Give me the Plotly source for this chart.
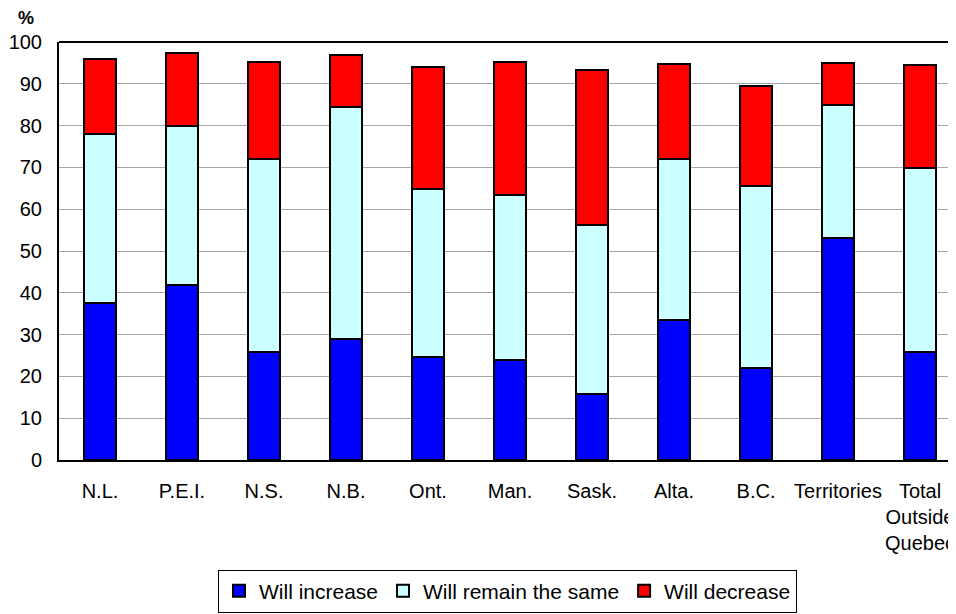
import plotly.graph_objects as go

categories = ["N.L.", "P.E.I.", "N.S.", "N.B.", "Ont.", "Man.", "Sask.", "Alta.", "B.C.",
              "Territories", "Total<br>Outside<br>Quebec"]
will_increase = [37.5, 41.9, 25.9, 28.9, 24.6, 23.9, 15.9, 33.5, 22.0, 53.2, 25.9]
will_remain = [40.6, 37.9, 46.2, 55.6, 40.2, 39.4, 40.4, 38.6, 43.6, 31.7, 43.9]
will_decrease = [17.8, 17.5, 23.0, 12.4, 29.3, 31.9, 37.1, 22.6, 23.9, 10.0, 24.8]
y_ticks = [0, 10, 20, 30, 40, 50, 60, 70, 80, 90, 100]

FONT = "Liberation Sans, Arial, sans-serif"
line = dict(color="black", width=2)

fig = go.Figure()
fig.add_trace(go.Bar(x=categories, y=will_increase, name="Will increase",
                     marker=dict(color="#0000FF", line=line), width=0.39))
fig.add_trace(go.Bar(x=categories, y=will_remain, name="Will remain the same",
                     marker=dict(color="#CCFFFF", line=line), width=0.39))
fig.add_trace(go.Bar(x=categories, y=will_decrease, name="Will decrease",
                     marker=dict(color="#FF0000", line=line), width=0.39))

# page body has an 8px default margin, so the figure is sized/offset to compensate
fig.update_layout(
    barmode="stack",
    width=948, height=606,
    margin=dict(l=51, r=0, t=34, b=154),
    paper_bgcolor="white", plot_bgcolor="white",
    font=dict(family=FONT, size=20, color="black"),
    showlegend=True,
    legend=dict(orientation="h", x=0.5, xanchor="center", y=-0.262, yanchor="top",
                bordercolor="black", borderwidth=1, font=dict(size=21),
                traceorder="normal", itemwidth=30),
    xaxis=dict(range=[-0.5, -0.5 + 897 / 82], showline=True, linecolor="black", linewidth=2,
               showgrid=False, ticks="", ticklabelstandoff=12, tickangle=0,
               tickfont=dict(size=20)),
    yaxis=dict(range=[0, 100], tickvals=y_ticks, showline=True, linecolor="black",
               linewidth=2, showgrid=True, gridcolor="#A6A6A6", gridwidth=1,
               ticks="", ticklabelstandoff=11, tickfont=dict(size=20), zeroline=False),
    shapes=[dict(type="line", xref="paper", yref="paper", x0=0, x1=1, y0=1, y1=1,
                 line=dict(color="black", width=2))],
    annotations=[dict(text="<b>%</b>", xref="paper", yref="paper", x=-0.0368, y=1.0574,
                      showarrow=False, font=dict(size=18), xanchor="center", yanchor="middle")],
)

fig.write_html("out.html")
